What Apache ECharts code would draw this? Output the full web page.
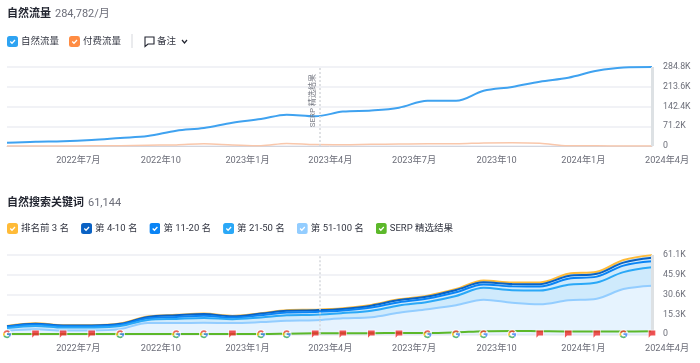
<!DOCTYPE html>
<html><head><meta charset="utf-8">
<style>html,body{margin:0;padding:0;background:#fff}#c{width:700px;height:363px}</style>
<script src="https://cdn.jsdelivr.net/npm/echarts@6/dist/echarts.min.js"></script>
</head><body><div id="c"></div>
<script>
const dates = ['2022-05-01','2022-06-01','2022-07-01','2022-08-01','2022-09-01','2022-10-01','2022-11-01','2022-12-01','2023-01-01','2023-02-01','2023-03-01','2023-04-01','2023-05-01','2023-06-01','2023-07-01','2023-08-01','2023-09-01','2023-10-01','2023-11-01','2023-12-01','2024-01-01','2024-02-01','2024-03-01','2024-04-01'];
const xTickDates = ['2022-07-01','2022-10-01','2023-01-01','2023-04-01','2023-07-01','2023-10-01','2024-01-01','2024-04-01'];
const serpDate = '2023-04-06';
// traffic (thousands)
const organicTraffic = [12,15.5,17,21.6,29,36,55,65,84,97,113,107,124,128,138,163,163,199,213,232,246,271,283,284.782];
const paidTraffic = [0.3,0.3,0.3,0.5,1,3,4,8,4,1,9,5,4.5,6,7,8,8,11,12,10,1,0.5,0.3,0.3];
const trafficTickLabels = ['0','71.2K','142.4K','213.6K','284.8K'];
// keywords by rank band (thousands, stacked)
const rank51to100 = [2.7,3.9,2.9,2.9,4,8.7,8.7,8.9,8.7,9.4,10.4,10.9,12.4,13.2,16.7,19.4,22.5,26.7,24.4,23.2,26.2,27.5,34.9,37.5];
const rank21to50 = [2.2,2.6,2.3,2.4,2.4,2.3,3.2,3.7,2.9,3.6,4.3,4.2,4,5,5.6,5.6,7.1,9.2,9.6,10.6,12.1,12.5,13.1,14.2];
const rank11to20 = [1,1.1,1,1,1,1.3,1.5,1.7,1.3,1.7,2.1,2.1,1.9,2.4,2.5,2.6,2.9,2.6,3,3.1,4.6,4.5,5,4.6];
const rank4to10 = [0.4,0.6,0.6,0.5,0.7,1.1,1.3,1.4,1,1.3,1.4,1.4,1.3,1.5,1.6,1.5,1.7,1.6,1.8,1.8,2.1,2.2,2.3,2.7];
const rankTop3 = [0.2,0.3,0.2,0.2,0.2,0.3,0.3,0.3,0.3,0.3,0.4,0.4,0.5,0.6,0.6,0.7,0.7,1.5,1.2,1.3,1.7,1.6,2.1,2.1];
const serpFeature = [0.3,0.3,0.3,0.3,0.3,0.3,0.3,0.3,0.3,0.3,0.5,0.8,0.9,0.9,1,1,1.5,2.4,2.6,2.4,2.2,2.2,2.2,2.3];
const keywordTickLabels = ['0','15.3K','30.6K','45.9K','61.1K'];
const googleEventIdx = [0,4,6,7,9,10,15,16,17,18,22];
const flagEventIdx = [1,2,3,8,11,12,13,14,19,20,21,23];

const FONT = "Roboto, 'Noto Sans CJK SC', sans-serif";
const svg = s => 'image://data:image/svg+xml;utf8,' + encodeURIComponent(s);
const chk = c => svg(`<svg xmlns='http://www.w3.org/2000/svg' width='44' height='44'><rect width='44' height='44' rx='10' fill='${c}'/><path d='M13 22l7 7 12-13' stroke='#fff' stroke-width='5' fill='none'/></svg>`);
const gIcon = svg(`<svg xmlns='http://www.w3.org/2000/svg' width='48' height='48' viewBox='0 0 48 48'><circle cx='24' cy='24' r='24' fill='#fff'/><path d='M24 5a19 19 0 0 1 13.500 5.500l-5.500 5.500A11 11 0 0 0 14 19.500L7 15A19 19 0 0 1 24 5z' fill='#ea4335'/><path d='M7 15l7 4.500a11 11 0 0 0 0 9L7 33a19 19 0 0 1 0-18z' fill='#fbbc05'/><path d='M7 33l7-4.500a11 11 0 0 0 17 3.500l6 4.800A19 19 0 0 1 7 33z' fill='#34a853'/><path d='M43 24c0 5-1.900 9.800-6 12.800l-6-4.800a9 9 0 0 0 3.500-4.500H24v-8h18.700c.2 1.500.3 3 .3 4.500z' fill='#4285f4'/></svg>`);
const flagIcon = svg(`<svg xmlns='http://www.w3.org/2000/svg' width='48' height='48' viewBox='0 0 48 48'><path d='M4 2h40v32H20L10 46H4z' fill='#fff' fill-opacity='.85'/><path d='M8 6h32v24H18l-10 11z' fill='#ef2b2d'/></svg>`);

const ts = d => echarts.time.parse(d).getTime();
const pts = v => dates.map((d, i) => [ts(d), v[i]]);
const ticks = xTickDates.map(ts);
const add = (a, b) => a.map((v, i) => +(v + b[i]).toFixed(3));
const line51 = rank51to100;
const line21 = add(line51, rank21to50);
const line11 = add(line21, rank11to20);
const line4 = add(line11, rank4to10);
const line3 = add(line4, rankTop3);

const xAxis = g => ({
  type: 'value', gridIndex: g, min: ts(dates[0]), max: ts(dates[dates.length - 1]),
  axisLine: {show: true, onZero: false, lineStyle: {color: g === 0 ? '#d3d5de' : '#e4e6ec', width: 1}},
  axisTick: {show: false}, splitLine: {show: false},
  axisLabel: {
    customValues: ticks, color: '#6c6e79', fontSize: 9.2, fontFamily: FONT, margin: 10, align: 'left',
    width: 47, overflow: 'truncate', ellipsis: '', padding: [0, 0, 0, -7],
    showMinLabel: true, showMaxLabel: true, hideOverlap: false,
    formatter: v => { const d = new Date(v); return d.getFullYear() + '年' + (d.getMonth() + 1) + '月'; }
  }
});
const yAxis = (g, max, step, labels) => ({
  type: 'value', gridIndex: g, position: 'right', min: 0, max: max, interval: step,
  axisLine: {show: false}, axisTick: {show: false},
  splitLine: {lineStyle: {color: '#eceef3', width: 1.5}},
  axisLabel: {color: '#6c6e79', fontSize: 8.8, fontFamily: FONT, margin: 11,
    formatter: v => labels[Math.round(v / step)]}
});
const vLines = (label) => ({
  silent: true, symbol: 'none', animation: false,
  data: [
    {xAxis: ts(serpDate), lineStyle: {color: '#d5d7dc', type: [2, 2], width: 1.5},
     label: label ? {show: true, formatter: 'SERP 精选结果', position: 'insideEndTop', rotate: 90, color: '#777a84', fontSize: 8, fontFamily: FONT, distance: [7, 3]} : {show: false}},
    {xAxis: ts(dates[dates.length - 1]), lineStyle: {color: '#dde1e4', type: 'solid', width: 3}, label: {show: false}}
  ]
});
const rankLine = (name, v, c, area, z) => ({
  name, type: 'line', xAxisIndex: 1, yAxisIndex: 1, data: pts(v), smooth: 0.35, showSymbol: false,
  lineStyle: {color: c, width: 2}, itemStyle: {color: c}, z,
  areaStyle: area ? {color: area, opacity: 1} : undefined
});
const L = ['排名前 3 名','第 4-10 名','第 11-20 名','第 21-50 名','第 51-100 名','SERP 精选结果'];
const legendColors = ['#ffbb38','#0a62c4','#0a84f5','#2aa8f7','#93cdff','#5cb82a'];
const titleRich = {
  a: {fontSize: 11, fontWeight: 'bold', color: '#222530', fontFamily: FONT},
  b: {fontSize: 11, fontWeight: 'normal', color: '#6c6e79', fontFamily: FONT, padding: [0, 0, 0, -1]}
};

const chart = echarts.init(document.getElementById('c'), null, {renderer: 'canvas'});
chart.setOption({
  animation: false, backgroundColor: '#fff',
  title: [
    {left: 7, top: 5, padding: 0, text: '{a|自然流量} {b|284,782/月}', textStyle: {fontWeight: 'normal', rich: titleRich}},
    {left: 7, top: 194, padding: 0, text: '{a|自然搜索关键词} {b|61,144}', textStyle: {fontWeight: 'normal', rich: titleRich}}
  ],
  legend: [
    {left: 7, top: 36, itemWidth: 11, itemHeight: 11, itemGap: 10, selectedMode: false, padding: 0,
     textStyle: {fontSize: 9.5, color: '#333642', fontFamily: FONT, padding: [0, 0, 0, -2]},
     data: [{name: '自然流量', icon: chk('#2ea3f2')}, {name: '付费流量', icon: chk('#ff8c43')}]},
    {left: 7, top: 223, itemWidth: 11, itemHeight: 11, itemGap: 12, selectedMode: false, padding: 0,
     textStyle: {fontSize: 9.5, color: '#333642', fontFamily: FONT, padding: [0, 0, 0, -2]},
     data: L.map((n, i) => ({name: n, icon: chk(legendColors[i])}))}
  ],
  grid: [
    {left: 7, right: 48, top: 67, height: 79},
    {left: 7, right: 48, top: 255, height: 79.3}
  ],
  xAxis: [xAxis(0), xAxis(1)],
  yAxis: [yAxis(0, 284.8, 71.2, trafficTickLabels), yAxis(1, 61.2, 15.3, keywordTickLabels)],
  graphic: [
    {type: 'line', shape: {x1: 132, y1: 34, x2: 132, y2: 48}, style: {stroke: '#d5d7dc', lineWidth: 1}},
    {type: 'polygon', shape: {points: [[145, 37], [154, 37], [154, 44], [148, 44], [145, 46.5]]}, style: {fill: 'none', stroke: '#222530', lineWidth: 1.1}},
    {type: 'text', x: 157, y: 37, style: {text: '备注', fontSize: 9.5, fill: '#333642', fontFamily: FONT}},
    {type: 'polyline', shape: {points: [[182, 40], [184.5, 43], [187, 40]]}, style: {fill: 'none', stroke: '#222530', lineWidth: 1.2}}
  ],
  series: [
    {name: '自然流量', type: 'line', xAxisIndex: 0, yAxisIndex: 0, data: pts(organicTraffic), smooth: 0.35, showSymbol: false,
     lineStyle: {color: '#3fa2f0', width: 2}, itemStyle: {color: '#2ea3f2'}, markLine: vLines(true), z: 3},
    {name: '付费流量', type: 'line', xAxisIndex: 0, yAxisIndex: 0, data: pts(paidTraffic), smooth: 0.35, showSymbol: false,
     lineStyle: {color: '#f9c7ab', width: 1.5}, itemStyle: {color: '#ff8c43'}, z: 3},
    rankLine(L[0], line3, legendColors[0], '#cfeafc', 3),
    rankLine(L[1], line4, legendColors[1], null, 3.1),
    rankLine(L[2], line11, legendColors[2], null, 3.2),
    rankLine(L[3], line21, legendColors[3], null, 3.3),
    Object.assign(rankLine(L[4], line51, legendColors[4], '#e6f3fe', 3.4), {markLine: vLines(false)}),
    {name: L[5], type: 'line', xAxisIndex: 1, yAxisIndex: 1, data: pts(serpFeature), smooth: 0.35, showSymbol: false,
     lineStyle: {color: '#5cb82a', width: 2}, itemStyle: {color: '#5cb82a'}, z: 4},
    {name: 'Google', type: 'scatter', xAxisIndex: 1, yAxisIndex: 1, symbol: gIcon, symbolSize: 10, z: 6, silent: true,
     data: googleEventIdx.map(i => [ts(dates[i]), 0])},
    {name: '备注标记', type: 'scatter', xAxisIndex: 1, yAxisIndex: 1, symbol: flagIcon, symbolSize: 10, z: 6, silent: true,
     data: flagEventIdx.map(i => [ts(dates[i]), 0])}
  ]
});
</script></body></html>
